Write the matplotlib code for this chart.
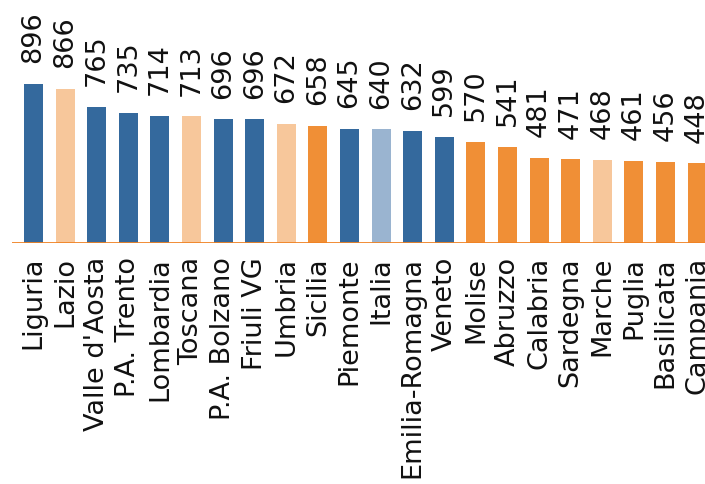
import matplotlib
matplotlib.use('Agg')
import matplotlib.pyplot as plt

regions = ['Liguria', 'Lazio', "Valle d'Aosta", 'P.A. Trento', 'Lombardia', 'Toscana',
           'P.A. Bolzano', 'Friuli VG', 'Umbria', 'Sicilia', 'Piemonte', 'Italia',
           'Emilia-Romagna', 'Veneto', 'Molise', 'Abruzzo', 'Calabria', 'Sardegna',
           'Marche', 'Puglia', 'Basilicata', 'Campania']
values = [896, 866, 765, 735, 714, 713, 696, 696, 672, 658, 645, 640,
          632, 599, 570, 541, 481, 471, 468, 461, 456, 448]
groups = ['n', 'c', 'n', 'n', 'n', 'c', 'n', 'n', 'c', 's', 'n', 'it',
          'n', 'n', 's', 's', 's', 's', 'c', 's', 's', 's']

palette = {'n': '#34699d', 'c': '#f7c79b', 's': '#f08f36', 'it': '#9ab4d0'}
colors = [palette[g] for g in groups]

fig = plt.figure(figsize=(7.05, 4.84), dpi=100)
ax = fig.add_axes([12 / 705, 241 / 484, 1 - 12 / 705, 243 / 484])

x = range(len(values))
bars = ax.bar(x, values, width=0.6, color=colors, zorder=2)
ax.axhline(0, color='#f08222', lw=2, zorder=3)

for xi, v in zip(x, values):
    ax.annotate(str(v), (xi, v), xytext=(0, 15), textcoords='offset points',
                rotation=90, ha='center', va='bottom', fontsize=19.5, color='#111111')

ax.set_xticks(list(x))
ax.set_xticklabels(regions, rotation=90, fontsize=19.5, color='#111111')
ax.tick_params(axis='x', length=0, pad=10)
ax.set_yticks([])
for s in ax.spines.values():
    s.set_visible(False)

ax.set_xlim(-0.68, 21.25)
ax.set_ylim(0, 1369)

fig.savefig('out.png', dpi=100)
